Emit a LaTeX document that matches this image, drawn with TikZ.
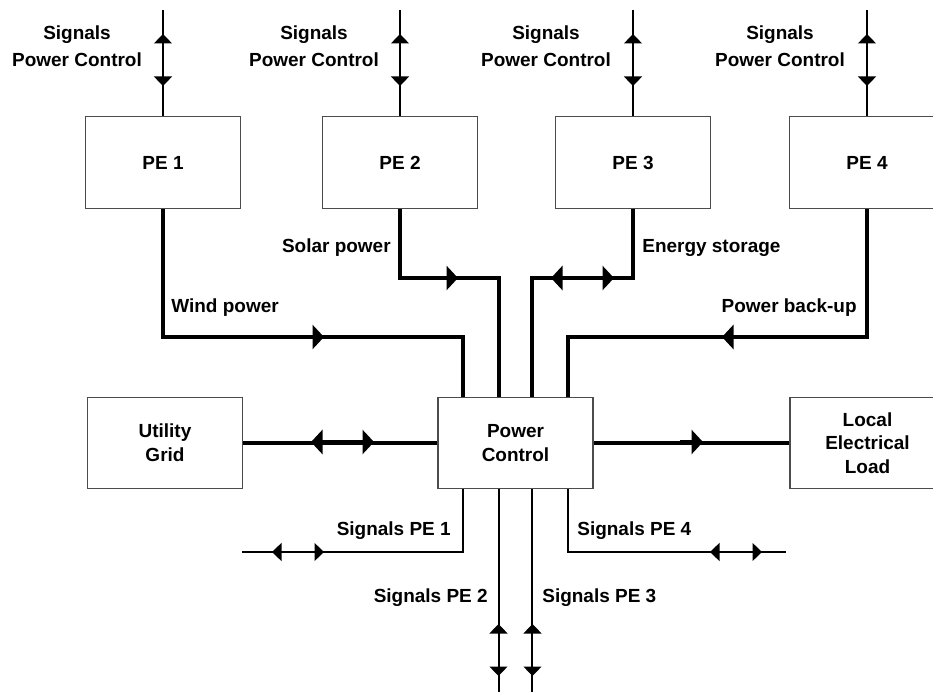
\documentclass[tikz,border=0pt]{standalone}
\usepackage{fontspec}
\setmainfont{Liberation Sans}
\usetikzlibrary{arrows.meta}
\begin{document}
\begin{tikzpicture}[x=0.02cm,y=-0.02cm]
	\tikzset{every node/.style={inner sep=0pt,font=\fontsize{10.8}{13.5}\selectfont\bfseries},
		box/.style={draw=black!70,line width=0.6pt,minimum width=3.1cm,minimum height=1.83cm,align=center},
		toplabel/.style={align=center,font=\fontsize{10.8}{15.3}\selectfont\bfseries},
		pwr/.style={line width=1.9pt},
		sig/.style={line width=0.75pt},
		pwrarrow/.style={pwr,-{Triangle[length=0.23cm,width=0.48cm]}},
		pwrarrows/.style={pwr,{Triangle[length=0.23cm,width=0.48cm]}-{Triangle[length=0.23cm,width=0.48cm]}},
		sigarrows/.style={sig,{Triangle[length=0.19cm,width=0.36cm]}-{Triangle[length=0.19cm,width=0.36cm]}}}
	\useasboundingbox (0,0) rectangle (933,692);
	\clip (0,0) rectangle (933,692);
	\foreach \n/\x/\lx in {1/163/77,2/400/314,3/633/546,4/867/780}{
		\node[box] (pe\n) at (\x,162.5) {PE \n};
		\coordinate (top\n) at (\x,10);
		\draw[sig] (pe\n.north) -- (top\n);
		\draw[sigarrows] (\x,34) -- (\x,86);
		\node[toplabel] (sp\n) at (\lx,46.5) {Signals\\Power Control};
	}
	\node[box] (ug) at (165,443) {Utility\\Grid};
	\node[box] (pc) at (515.5,443) {Power\\Control};
	\node[box] (load) at (867.5,443) {Local\\Electrical\\Load};
	\coordinate (railA) at (0,278);
	\coordinate (railB) at (0,337);
	\coordinate (railC) at (0,552);
	\coordinate (bot) at (0,700);
	\coordinate (in1) at ([xshift=-1.05cm]pc.north);
	\coordinate (in2) at ([xshift=-0.33cm]pc.north);
	\coordinate (in3) at ([xshift=0.33cm]pc.north);
	\coordinate (in4) at ([xshift=1.05cm]pc.north);
	\coordinate (out1) at ([xshift=-1.05cm]pc.south);
	\coordinate (out2) at ([xshift=-0.33cm]pc.south);
	\coordinate (out3) at ([xshift=0.33cm]pc.south);
	\coordinate (out4) at ([xshift=1.05cm]pc.south);
	% power lines
	\draw[pwr] (pe1.south) |- (railB -| in1) -- (in1);
	\draw[pwrarrow] (300,337) -- (324,337);
	\draw[pwr] (pe2.south) |- (railA -| in2) -- (in2);
	\draw[pwrarrow] (435,278) -- (458,278);
	\draw[pwr] (pe3.south) |- (railA -| in3) -- (in3);
	\draw[pwrarrows] (551,278) -- (614,278);
	\draw[pwr] (pe4.south) |- (railB -| in4) -- (in4);
	\draw[pwrarrow] (745,337) -- (722,337);
	\draw[pwr] (ug.east) -- (pc.west);
	\draw[pwrarrows] (311,442) -- (374,442);
	\draw[pwr] (pc.east) -- (load.west);
	\draw[pwrarrow] (680,442) -- (703,442);
	% signals to the PE units
	\coordinate (end1) at (242,552);
	\coordinate (end4) at (786,552);
	\draw[sig] (out1) |- (end1);
	\draw[sigarrows] (272,552) -- (324,552);
	\draw[sig] (out4) |- (end4);
	\draw[sigarrows] (710,552) -- (762,552);
	\draw[sig] (out2) -- (out2 |- bot);
	\draw[sig] (out3) -- (out3 |- bot);
	\draw[sigarrows] (498.5,624) -- (498.5,676);
	\draw[sigarrows] (532.5,624) -- (532.5,676);
	\node[anchor=east] (lsolar) at (391,248) {Solar power};
	\node[anchor=west] (lwind) at (171,308) {Wind power};
	\node[anchor=west] (lstore) at (642,248) {Energy storage};
	\node[anchor=east] (lback) at (857,308) {Power back-up};
	\node[anchor=east] (ls1) at (451,531) {Signals PE 1};
	\node[anchor=west] (ls4) at (577,531) {Signals PE 4};
	\node[anchor=east] (ls2) at (488,598) {Signals PE 2};
	\node[anchor=west] (ls3) at (542,598) {Signals PE 3};
\end{tikzpicture}
\end{document}
